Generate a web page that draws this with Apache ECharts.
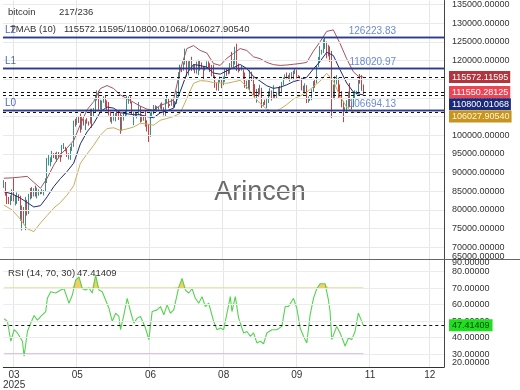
<!DOCTYPE html>
<html><head><meta charset="utf-8">
<script src="https://cdn.jsdelivr.net/npm/echarts@6/dist/echarts.min.js"></script>
<style>html,body{margin:0;padding:0;background:#fff}#c{width:520px;height:390px}</style>
</head><body><div id="c"></div>
<script>
// ---- data (prices in thousands of USD, daily candles from index 0) ----
const firstOpen = 86.9;
const closes = [87.2,84.4,82.6,82.4,82.5, 85.2,82.5,83.1,83.8,83.5, 78.4,79.2,76.3,82.6,79.6, 83.4,85.3,83.7,84.5,83.6,
 84.0,84.9,84.4,85.1,85.2, 87.5,93.4,93.7,93.9,94.7, 94.6,93.8,95.0,94.3,94.2, 96.5,96.9,95.9,94.3,94.7,
 96.8,97.0,103.2,102.9,104.6, 104.1,102.8,104.2,103.5,103.7, 103.5,103.2,106.5,105.6,106.8, 109.7,111.7,107.3,107.8,109.0,
 109.4,108.9,107.8,105.6,103.9, 104.6,105.7,105.8,105.4,104.7, 101.5,104.3,105.6,105.7,110.3, 110.3,108.7,105.7,106.1,105.5,
 105.6,107.0,104.6,104.9,104.6, 103.3,102.1,101.0,105.6,106.0, 107.3,106.9,107.1,107.3,108.4, 107.2,105.7,108.9,109.6,108.0,
 108.2,109.2,108.3,108.9,111.3, 115.9,117.5,117.4,119.1,119.8, 117.7,118.7,119.3,117.9,117.9, 117.3,117.4,120.0,118.8,118.4,
 117.6,117.9,119.4,118.0,117.9, 117.8,115.8,113.3,112.5,114.2, 115.0,114.1,115.0,117.5,116.7, 116.5,119.3,118.7,120.2,123.3,
 118.4,117.4,117.5,117.5,116.3, 112.9,114.3,112.5,116.9,115.4, 113.5,110.1,111.8,111.2,112.6, 108.4,108.8,108.2,109.2,111.2,
 111.7,110.7,110.7,110.2,111.1, 112.1,111.5,113.9,115.5,116.1, 115.9,115.3,115.4,116.8,116.5, 117.1,115.7,115.7,115.3,112.7,
 112.0,113.3,109.0,109.7,109.7, 112.1,114.4,114.1,118.6,120.6, 122.3,122.4,123.5,124.8,121.5, 123.4,121.7,113.2,110.7,115.2,
 115.3,113.1,110.8,108.2,106.5, 107.2,108.7,110.6,108.5,107.6, 110.1,111.0,111.6,114.5,114.1, 112.9,111.55028];
const highs = [88.0,87.5,84.6,83.5,83.9, 85.5,88.5,83.9,84.7,84.2, 83.8,81.2,80.8,83.5,82.7, 84.3,85.9,86.1,85.8,86.5,
 86.0,85.5,85.1,85.6,85.3, 88.5,93.9,94.7,94.1,95.8, 95.2,95.3,95.6,95.5,95.2, 97.4,97.9,96.9,96.3,95.2,
 96.9,97.7,103.9,104.4,104.9, 104.9,105.8,104.9,104.4,104.2, 104.6,103.7,107.1,107.1,107.3, 110.8,112.0,111.9,109.5,109.3,
 110.4,110.7,109.3,108.9,106.3, 104.9,105.9,105.9,106.8,106.0, 105.9,105.4,105.9,106.5,110.6, 110.4,110.4,108.9,106.2,106.2,
 106.1,108.9,107.8,105.5,105.2, 106.5,104.0,103.0,106.1,106.3, 108.1,108.0,107.8,107.6,108.5, 108.8,107.5,109.8,110.5,109.8,
 108.4,109.7,109.7,109.2,111.9, 116.9,118.9,118.2,119.5,123.2, 119.9,119.8,120.1,121.0,118.9, 118.9,119.7,120.2,120.1,119.5,
 118.5,118.3,119.8,119.8,119.3, 118.8,118.9,116.0,114.0,114.8, 115.7,115.1,115.7,117.7,117.9, 117.9,119.3,122.3,120.3,123.7,
 124.5,119.2,117.9,118.6,117.6, 116.8,114.6,114.8,117.4,117.0, 115.7,113.7,112.4,112.6,113.5, 112.7,108.9,109.5,109.9,111.8,
 112.6,112.0,113.4,111.0,111.6, 112.9,113.2,114.3,115.5,116.3, 116.8,116.1,116.7,116.9,117.3, 117.9,117.5,116.1,115.9,115.4,
 113.3,113.9,113.4,110.4,109.8, 112.3,114.5,114.8,118.7,121.0, 123.9,122.9,125.7,126.2,125.1, 124.2,123.8,122.6,113.6,115.8,
 116.1,115.4,113.6,111.8,109.2, 107.5,109.4,111.7,114.0,109.0, 111.3,112.0,111.9,115.0,116.4, 116.1,113.6];
const lows = [85.9,83.8,81.6,81.6,81.3, 82.4,82.3,81.2,81.6,82.4, 77.1,74.5,76.2,74.6,78.5, 78.9,82.8,83.1,83.6,83.6,
 83.1,83.8,84.2,84.3,83.9, 85.1,87.2,91.9,91.7,92.8, 93.9,93.6,92.9,93.8,92.9, 94.1,96.3,95.7,94.2,93.5,
 93.4,95.8,96.9,102.3,102.8, 103.3,100.7,101.5,102.6,101.4, 103.1,102.6,103.1,102.0,104.9, 106.1,109.3,106.8,106.9,106.6,
 108.7,107.5,106.8,105.3,103.6, 103.1,103.9,103.7,105.0,104.1, 100.4,101.1,103.9,105.1,105.3, 108.4,108.5,105.6,102.7,104.9,
 104.5,105.5,103.4,103.6,103.9, 102.3,101.0,98.2,99.6,104.7, 105.6,106.5,106.3,106.8,107.1, 106.8,105.3,105.1,108.6,107.3,
 107.8,107.9,107.5,107.4,108.4, 110.6,115.2,116.9,117.3,118.9, 115.7,116.0,117.5,117.2,117.4, 116.6,116.5,116.1,117.3,117.9,
 114.7,117.3,117.8,117.6,116.9, 115.8,115.5,112.7,112.0,111.9, 114.1,112.6,113.4,114.3,115.9, 116.3,116.5,118.1,118.2,118.9,
 117.2,116.8,117.2,117.3,114.7, 112.7,112.4,112.4,111.7,114.5, 110.7,109.7,108.7,110.3,110.9, 107.3,107.9,108.1,107.3,108.6,
 110.4,109.3,110.0,110.0,110.0, 110.6,110.8,111.4,113.4,114.8, 115.2,114.8,114.4,114.8,114.7, 116.4,115.2,115.4,115.2,112.0,
 111.6,111.1,108.6,108.7,109.2, 109.4,111.6,112.7,113.9,118.3, 119.3,121.6,122.0,123.1,120.6, 121.1,119.6,104.6,109.7,109.6,
 113.6,109.7,110.1,107.5,103.5, 106.4,106.3,107.4,107.5,106.9, 107.5,109.7,110.9,111.2,113.8, 111.9,111.0];

// TMAB (10) bands, read at these candle indices (thousands)
const bandIdx = [0,5,10,14,18,22,26,30,34,38,42,46,50,54,58,62,66,70,74,78,82,86,90,94,98,102,106,110,114,118,122,126,130,134,138,142,146,150,154,158,162,166,170,174,178,182,186,190,194,198,202,206,210,213,216];
const upperBand = [88.5,88.6,88.8,89.0,87.4,85.8,88.5,92.0,94.8,96.6,98.6,102.9,106.8,109.0,112.5,113.3,112.5,110.8,109.8,108.8,107.8,107.0,106.7,108.0,108.6,109.5,117.5,123.2,124.0,122.7,122.0,119.2,118.7,120.6,121.9,123.2,122.7,121.0,120.5,119.5,118.9,118.7,118.8,119.0,119.2,119.5,122.5,125.0,127.8,128.2,124.6,120.5,117.0,115.8,115.57212];
const midBand = [84.9,84.3,83.15,82.0,80.8,81.15,83.5,86.25,88.4,90.3,92.55,97.7,100.9,103.15,106.25,107.55,107.25,106.05,105.75,105.5,105.5,105.0,104.7,106.0,106.55,107.25,111.7,116.55,118.95,118.65,118.25,116.65,116.35,117.25,118.1,118.95,117.85,115.75,114.5,113.25,112.55,112.85,113.5,114.35,114.85,115.5,117.75,119.75,122.2,121.35,117.55,114.0,111.6,111.05,110.80001];
const lowerBand = [81.3,80.0,77.5,75.0,74.2,76.5,78.5,80.5,82.0,84.0,86.5,92.5,95.0,97.3,100.0,101.8,102.0,101.3,101.7,102.2,103.2,103.0,102.7,104.0,104.5,105.0,105.9,109.9,113.9,114.6,114.5,114.1,114.0,113.9,114.3,114.7,113.0,110.5,108.5,107.0,106.2,107.0,108.2,109.7,110.5,111.5,113.0,114.5,116.6,114.5,110.5,107.5,106.2,106.3,106.02791];

// RSI (14), read at these candle indices
const rsiIdx = [0,2,4,6,8,9,11,12,14,16,18,20,22,25,26,28,31,34,36,38,39,41,43,45,47,49,51,53,55,57,59,61,63,65,67,69,70,72,74,76,78,80,82,85,87,89,92,94,96,98,100,102,105,107,109,111,113,115,117,119,121,123,126,128,130,132,134,136,137,139,141,144,146,148,150,152,154,156,158,161,164,167,169,171,174,176,178,180,182,184,186,188,190,193,195,196,197,200,202,204,205,207,209,211,213,215,216];
const rsiVal = [51.4,49.8,37.8,44.8,42.8,43.7,37.8,28.8,43.7,48.8,53.4,50.6,52.8,55.8,63.8,67.8,67.0,68.8,69.6,63.8,60.8,65.8,74.8,76.8,69.6,68.8,70.0,67.0,77.8,68.8,67.8,62.8,57.8,49.8,54.8,52.8,44.8,53.8,63.8,55.8,48.8,51.8,52.8,45.8,38.8,55.8,56.8,58.8,53.8,59.8,54.8,56.8,70.6,75.8,68.8,67.0,69.6,63.8,60.8,64.8,58.8,60.8,49.8,44.8,45.8,44.8,54.8,64.8,55.8,64.8,51.8,42.8,43.7,40.8,42.8,36.8,37.8,36.3,42.8,44.8,44.8,46.8,58.8,58.8,63.8,57.8,45.8,40.8,36.8,53.8,63.8,69.6,72.6,72.6,62.8,55.8,38.8,46.8,42.8,37.8,34.8,39.8,38.8,43.7,54.8,50.0,47.41409];
const rsiLast = 47.41409;
const rsiUpper = 70, rsiLower = 30;

// axes
const slotCount = 265;
const xTickIdx = [6,44,88,132,176,220,256];
const xTickText = ['03\n2025','05','06','08','09','11','12'];
const priceTicks = [70000,75000,80000,85000,90000,95000,100000,105000,110000,115000,120000,125000,130000,135000];
const rsiTicks = [30,40,50,60,70,80];

// levels and band values
const levelValues = [126223.83, 118020.97, 106694.13];
const levelNames = ['L2','L1','L0'];
const tagValues = [115572.11595, 111550.28125, 110800.01068, 106027.90540];
const tagBg = ['#b2353d','#ec4452','#1b2a78','#c6941f'];
const tagFg = ['#ffffff','#ffffff','#ffffff','#fff6dc'];

// ---- build ----
const FONT = '"Liberation Sans", Arial, sans-serif';
const chart = echarts.init(document.getElementById('c'), null, {renderer:'canvas'});
const cats = Array.from({length: slotCount}, (_, i) => String(i));
const tickSet = new Set(xTickIdx);
const tickFn = (idx) => tickSet.has(idx);
const candles = closes.map((c, i) => {
  const o = i === 0 ? firstOpen : closes[i-1];
  return [o*1000, c*1000, Math.min(lows[i], o, c)*1000, Math.max(highs[i], o, c)*1000];
});
const band = arr => bandIdx.map((ix, j) => [ix, arr[j]*1000]);
const rsiPts = rsiIdx.map((ix, j) => [ix, rsiVal[j]]);
const obBase = rsiIdx.map(ix => [ix, rsiUpper]);
const obExcess = rsiIdx.map((ix, j) => [ix, Math.max(rsiVal[j] - rsiUpper, 0)]);
const lastIdx = closes.length - 1;

const mainML = [];
priceTicks.forEach(v => mainML.push({yAxis: v, lineStyle:{color:'#e9e9e9', width:1, type:'solid'}, label:{show:false}}));
levelValues.forEach((v, i) => {
  mainML.push({yAxis: v, lineStyle:{color:'#2c3a8e', width:1.3, type:'solid'},
    label:{show:true, position:'insideStartTop', formatter: levelNames[i], color:'#4d68bd', fontSize:10, fontFamily:FONT, distance:2, padding:[0,0,0,0]}});
  mainML.push({yAxis: v, lineStyle:{color:'#2c3a8e', width:1.3, type:'solid'},
    label:{show:true, position:'insideEndTop', formatter: v.toFixed(2), color:'#6a8bd3', fontSize:10, fontFamily:FONT, distance:1, padding:[0,47,0,0]}});
});
tagValues.forEach(v => mainML.push({yAxis: v, lineStyle:{color:'#111', width:1, type:[3,3]}, label:{show:false}}));

const rsiML = rsiTicks.map(v => ({yAxis: v, lineStyle:{color:'#ececec', width:1, type:'solid'}, label:{show:false}}));
rsiML.push({yAxis: rsiLast, lineStyle:{color:'#111', width:1, type:[3,3]}, label:{show:false}});

const option = {
  animation: false,
  textStyle: {fontFamily: FONT},
  grid: [
    {left:3, right:76, top:0, height:259},
    {left:3, right:76, top:260, height:108}
  ],
  xAxis: [
    {type:'category', gridIndex:0, data:cats, boundaryGap:true,
     axisLine:{show:false}, axisTick:{show:false}, axisLabel:{show:false},
     splitLine:{show:true, interval:tickFn, lineStyle:{color:'#e6e6e6'}}},
    {type:'category', gridIndex:1, data:cats, boundaryGap:true,
     axisLine:{show:true, lineStyle:{color:'#333'}}, axisTick:{show:false},
     axisLabel:{interval:tickFn, formatter:(val, idx) => xTickText[xTickIdx.indexOf(idx)] || '', color:'#333', fontSize:10, margin:3, lineHeight:10},
     splitLine:{show:true, interval:tickFn, lineStyle:{color:'#e6e6e6'}}}
  ],
  yAxis: [
    {type:'value', gridIndex:0, position:'right', min:66874, max:136064, scale:true,
     axisLine:{show:true, lineStyle:{color:'#444'}}, axisTick:{show:false}, splitLine:{show:false},
     axisLabel:{customValues:priceTicks, showMinLabel:true, showMaxLabel:true, hideOverlap:false, formatter:v => v.toFixed(5), color:'#333', fontSize:9, margin:8}},
    {type:'value', gridIndex:1, position:'right', min:22.2, max:87, scale:true,
     axisLine:{show:true, lineStyle:{color:'#444'}}, axisTick:{show:false}, splitLine:{show:false},
     axisLabel:{customValues:rsiTicks, showMinLabel:true, showMaxLabel:true, hideOverlap:false, formatter:v => v.toFixed(5), color:'#333', fontSize:9, margin:8}}
  ],
  series: [
    {type:'candlestick', name:'bitcoin', xAxisIndex:0, yAxisIndex:0, data:candles, barWidth:'65%',
     itemStyle:{color:'#3f9d9a', color0:'#dd4b4b', borderColor:'#3a8f8e', borderColor0:'#cf3f3f', borderWidth:1},
     markLine:{silent:true, symbol:['none','none'], animation:false, data:mainML}},
    {type:'line', name:'upper', xAxisIndex:0, yAxisIndex:0, data:band(upperBand), showSymbol:false, symbol:'none',
     lineStyle:{color:'#a2535e', width:1}},
    {type:'line', name:'mid', xAxisIndex:0, yAxisIndex:0, data:band(midBand), showSymbol:false, symbol:'none',
     lineStyle:{color:'#1e2a7a', width:1}},
    {type:'line', name:'lower', xAxisIndex:0, yAxisIndex:0, data:band(lowerBand), showSymbol:false, symbol:'none',
     lineStyle:{color:'#c8ad5c', width:1}},
    {type:'line', name:'obBase', xAxisIndex:1, yAxisIndex:1, data:obBase, stack:'ob', showSymbol:false, symbol:'none',
     lineStyle:{width:0, opacity:0}, silent:true},
    {type:'line', name:'obFill', xAxisIndex:1, yAxisIndex:1, data:obExcess, stack:'ob', showSymbol:false, symbol:'none',
     lineStyle:{width:0, opacity:0}, areaStyle:{color:'#f3c54e', opacity:0.85}, silent:true},
    {type:'line', name:'rsi70', xAxisIndex:1, yAxisIndex:1, data:[[0, rsiUpper],[lastIdx, rsiUpper]], showSymbol:false, symbol:'none',
     lineStyle:{color:'#f2c463', width:1.2}},
    {type:'line', name:'rsi30', xAxisIndex:1, yAxisIndex:1, data:[[0, rsiLower],[lastIdx, rsiLower]], showSymbol:false, symbol:'none',
     lineStyle:{color:'#b58be6', width:1.2}},
    {type:'line', name:'RSI', xAxisIndex:1, yAxisIndex:1, data:rsiPts, showSymbol:false, symbol:'none',
     lineStyle:{color:'#55d34f', width:1.1},
     markLine:{silent:true, symbol:['none','none'], animation:false, data:rsiML}}
  ]
};
chart.setOption(option);

// ---- overlay texts ----
const g = [];
const LF = '9.5px ' + FONT;
const txt = (x, y, text, font) => g.push({type:'text', x, y, z:50, style:{text, fill:'#333', font: font || LF, verticalAlign:'middle'}});
g.push({type:'text', x:260, y:193, z:1, style:{text:'Arincen', fill:'rgba(80,80,80,0.85)', font:'27px ' + FONT, align:'center', verticalAlign:'middle'}});
txt(8, 12.7, 'bitcoin');
txt(59, 12.7, lastIdx + 1 + '/236');
txt(10, 29.5, 'TMAB (10)');
txt(64, 29.5, tagValues[0].toFixed(5) + '/' + tagValues[2].toFixed(5) + '/' + tagValues[3].toFixed(5));
txt(8, 273.5, 'RSI (14, 70, 30)');
txt(77, 273.5, rsiLast.toFixed(5));
// clamped axis labels at panel edges
txt(452, 256.7, '65000.00000', '9px ' + FONT);
txt(452, 263, '90.00000', '9px ' + FONT);
txt(452, 362.7, '20.00000', '9px ' + FONT);
// panel separator
g.push({type:'line', z:40, shape:{x1:0, y1:259.5, x2:520, y2:259.5}, style:{stroke:'#666', lineWidth:1}});
// value tags
const tags = tagValues.map((v, i) => ({v, y: chart.convertToPixel({yAxisIndex:0}, v), bg: tagBg[i], fg: tagFg[i]}));
tags.sort((a, b) => a.y - b.y);
for (let i = 1; i < tags.length; i++) if (tags[i].y < tags[i-1].y + 12.2) tags[i].y = tags[i-1].y + 12.2;
tags.forEach(t => g.push({type:'text', x:449, y:t.y, z:60, style:{text:t.v.toFixed(5), fill:t.fg, backgroundColor:t.bg, padding:[2,2,1,3], font:'9px ' + FONT, verticalAlign:'middle'}}));
const ry = chart.convertToPixel({yAxisIndex:1}, rsiLast);
g.push({type:'text', x:449, y:ry, z:60, style:{text:rsiLast.toFixed(5), fill:'#103d10', backgroundColor:'#1fe01f', padding:[2,3,1,3], font:'9px ' + FONT, verticalAlign:'middle'}});
chart.setOption({graphic: g});
</script></body></html>
